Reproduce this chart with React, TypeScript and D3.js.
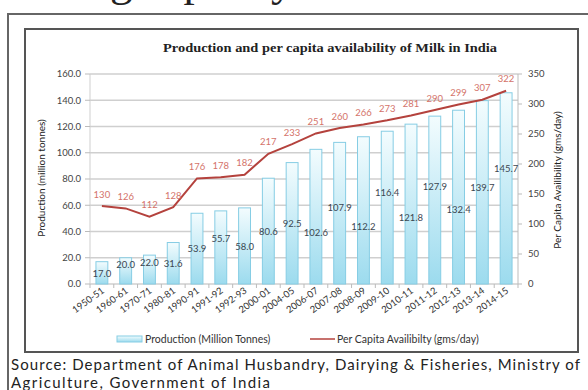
import React from 'react';
import * as d3 from 'd3';

const categories = ['1950-51','1960-61','1970-71','1980-81','1990-91','1991-92','1992-93','2000-01','2004-05','2006-07','2007-08','2008-09','2009-10','2010-11','2011-12','2012-13','2013-14','2014-15'];
const production = [17.0,20.0,22.0,31.6,53.9,55.7,58.0,80.6,92.5,102.6,107.9,112.2,116.4,121.8,127.9,132.4,139.7,145.7];
const perCapita = [130,126,112,128,176,178,182,217,233,251,260,266,273,281,290,299,307,322];
const leftTicks = [0,20,40,60,80,100,120,140,160];
const rightTicks = [0,50,100,150,200,250,300,350];
// manual label placement offsets (px) relative to bar middle, as in the source image
const prodLabelDy = [1,-6,-7,0,0,-9,1,1,0,16,-5,16,-15,14,-13,13,-5,-20];

const title = 'Production and per capita availability of Milk in India';
const leftTitle = 'Production (million tonnes)';
const rightTitle = 'Per Capita Availibility (gms/day)';
const legendBar = 'Production (Million Tonnes)';
const legendLine = 'Per Capita Availibilty (gms/day)';
const source1 = 'Source: Department of Animal Husbandry, Dairying & Fisheries, Ministry of';
const source2 = 'Agriculture, Government of India';
const heading = 'Increasing capacity in India';

const W = 588, H = 390;
const L = 90, R = 518, T = 74, B = 284;
const sans = 'Lato, "Open Sans", sans-serif';
const serif = '"Liberation Serif", "DejaVu Serif", serif';

export default function App() {
  const x = d3.scaleBand<string>().domain(categories).range([L, R]).padding(0);
  const yL = d3.scaleLinear().domain([0, 160]).range([B, T]);
  const yR = d3.scaleLinear().domain([0, 350]).range([B, T]);
  const bw = x.bandwidth() * 0.5;
  const cx = (c: string) => (x(c) as number) + x.bandwidth() / 2;
  const line = d3.line<number>()
    .x((_, i) => cx(categories[i]))
    .y((d) => yR(d))
    .curve(d3.curveLinear);

  return (
    <svg width={W} height={H} style={{ position: 'absolute', left: 0, top: 0, background: '#fff' }}>
      <defs>
        <linearGradient id="barGrad" x1="0" y1="0" x2="0" y2="1">
          <stop offset="0%" stopColor="#f3fcfe" />
          <stop offset="100%" stopColor="#9cdbee" />
        </linearGradient>
      </defs>
      <rect x={0} y={0} width={W} height={H} fill="#fff" />
      {/* heading of the page, cut by the top edge */}
      <text x={-55} y={-4} fontFamily={serif} fontSize={45} fill="#222">{heading}</text>
      {/* outer frame */}
      <path d={`M${W} 14 H8 V${H}`} fill="none" stroke="#666" strokeWidth={2} />
      {/* inner frame */}
      <rect x={25} y={29} width={553} height={323} fill="none" stroke="#555" strokeWidth={2} />

      <text x={330} y={52} textAnchor="middle" textLength={334} lengthAdjust="spacingAndGlyphs" fontFamily={serif} fontWeight="bold" fontSize={13} fill="#222">{title}</text>

      {/* gridlines */}
      {leftTicks.map((t) => (
        <line key={'g' + t} x1={L} x2={R} y1={yL(t)} y2={yL(t)} stroke="#cfcfcf" strokeWidth={1.5} />
      ))}
      {/* axes lines */}
      <line x1={L} x2={L} y1={T} y2={B} stroke="#cfcfcf" strokeWidth={1} />
      <line x1={R} x2={R} y1={T} y2={B} stroke="#bdbdbd" strokeWidth={1} />
      {leftTicks.map((t) => (
        <g key={'lt' + t}>
          <line x1={85} x2={L} y1={yL(t)} y2={yL(t)} stroke="#bbb" />
          <text x={81} y={yL(t) + 3.3} textAnchor="end" fontFamily={sans} fontSize={9.5} fill="#444">{t.toFixed(1)}</text>
        </g>
      ))}
      {rightTicks.map((t) => (
        <g key={'rt' + t}>
          <line x1={R} x2={R + 4} y1={yR(t)} y2={yR(t)} stroke="#bbb" />
          <text x={528} y={yR(t) + 3.3} fontFamily={sans} fontSize={9.5} fill="#444">{t}</text>
        </g>
      ))}
      {categories.map((c, i) => (
        <line key={'xt' + i} x1={x(c) as number} x2={x(c) as number} y1={B} y2={B + 4} stroke="#bbb" />
      ))}
      <line x1={R} x2={R} y1={B} y2={B + 4} stroke="#bbb" />

      {/* bars */}
      {categories.map((c, i) => (
        <rect key={'b' + c} x={cx(c) - bw / 2} y={yL(production[i])} width={bw} height={B - yL(production[i])}
          fill="url(#barGrad)" stroke="#86cde4" strokeWidth={1} />
      ))}
      {/* bar labels */}
      {categories.map((c, i) => (
        <text key={'bl' + c} x={cx(c)} y={(yL(production[i]) + B) / 2 + prodLabelDy[i] + 3.3} textAnchor="middle"
          fontFamily={sans} fontSize={9.5} fill="#3b4650">{production[i].toFixed(1)}</text>
      ))}
      {/* line */}
      <path d={line(perCapita) || ''} fill="none" stroke="#b4423d" strokeWidth={2} />
      {categories.map((c, i) => (
        <text key={'pl' + c} x={cx(c)} y={yR(perCapita[i]) - 8.5} textAnchor="middle"
          fontFamily={sans} fontSize={9.5} fill="#d4736a">{perCapita[i]}</text>
      ))}

      {/* x labels */}
      {categories.map((c) => (
        <text key={'xl' + c} transform={`translate(${cx(c) + 3},${B + 8}) rotate(-36)`} textAnchor="end"
          fontFamily={sans} fontSize={9.5} fill="#333">{c}</text>
      ))}

      {/* axis titles */}
      <text transform={`translate(45,178) rotate(-90)`} textAnchor="middle" fontFamily={sans} fontSize={10} fill="#222">{leftTitle}</text>
      <text transform={`translate(561,180) rotate(-90)`} textAnchor="middle" fontFamily={sans} fontSize={10} fill="#222">{rightTitle}</text>

      {/* legend */}
      <rect x={117} y={336} width={25} height={6} fill="url(#barGrad)" stroke="#86cde4" />
      <text x={145} y={342.5} fontFamily={sans} fontSize={10.5} fill="#333">{legendBar}</text>
      <line x1={310} x2={335} y1={339} y2={339} stroke="#b4423d" strokeWidth={1.5} />
      <text x={337} y={342.5} fontFamily={sans} fontSize={10.5} fill="#333">{legendLine}</text>

      {/* source */}
      <text x={11} y={370} textLength={569} lengthAdjust="spacing" fontFamily={sans} fontSize={15} fill="#222">{source1}</text>
      <text x={11} y={388} textLength={259} lengthAdjust="spacing" fontFamily={sans} fontSize={15} fill="#222">{source2}</text>
    </svg>
  );
}
